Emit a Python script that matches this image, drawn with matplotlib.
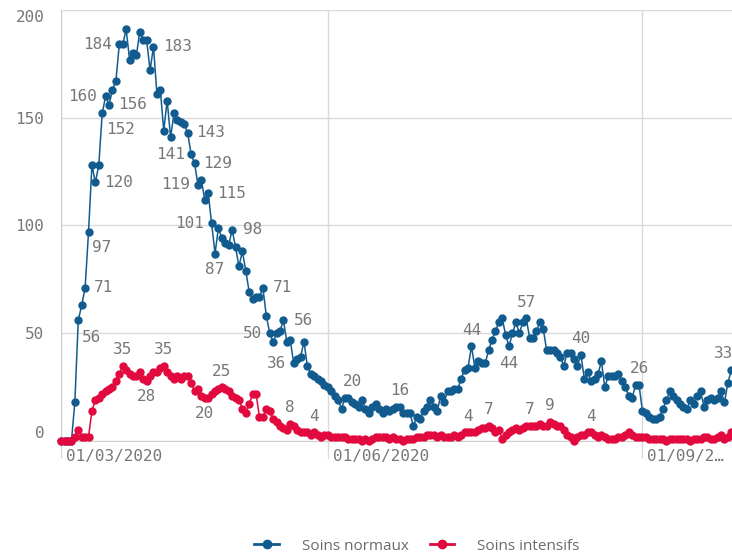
import numpy as np
import pandas as pd
import matplotlib
matplotlib.use("Agg")
import matplotlib.pyplot as plt
import matplotlib.dates as mdates
import matplotlib.transforms as mtransforms
from matplotlib.lines import Line2D

# daily values, 15/03/2020 -> 27/09/2020
dates = pd.date_range("2020-03-15", periods=197)

soins_normaux = [
    0, 0, 0, 0, 18, 56, 63, 71, 97, 128,
    120, 128, 152, 160, 156, 163, 167, 184, 184, 191,
    177, 180, 179, 190, 186, 186, 172, 183, 161, 163,
    144, 158, 141, 152, 149, 148, 147, 143, 133, 129,
    119, 121, 112, 115, 101, 87, 99, 94, 92, 91,
    98, 90, 81, 88, 79, 69, 66, 67, 67, 71,
    58, 50, 46, 50, 51, 56, 46, 47, 36, 38,
    39, 46, 35, 31, 30, 29, 28, 26, 25, 23,
    21, 19, 15, 20, 20, 18, 17, 16, 19, 15,
    13, 16, 17, 15, 13, 15, 14, 15, 16, 16,
    13, 13, 13, 7, 11, 10, 14, 16, 19, 16,
    14, 21, 18, 23, 23, 24, 24, 29, 33, 34,
    44, 34, 37, 36, 36, 42, 47, 51, 55, 57,
    49, 44, 50, 55, 50, 55, 57, 48, 48, 51,
    55, 52, 42, 42, 42, 41, 39, 35, 41, 41,
    38, 35, 40, 29, 32, 28, 29, 31, 37, 25,
    30, 30, 30, 31, 28, 25, 21, 20, 26, 26,
    14, 13, 11, 10, 10, 11, 15, 19, 23, 21,
    19, 17, 16, 15, 19, 17, 21, 23, 16, 19,
    20, 19, 20, 23, 18, 27, 33,
]

soins_intensifs = [
    0, 0, 0, 0, 2, 5, 2, 2, 2, 14,
    19, 20, 22, 23, 24, 25, 28, 31, 35, 33,
    31, 30, 30, 32, 29, 28, 30, 32, 32, 34,
    35, 32, 30, 29, 30, 29, 30, 30, 27, 23,
    24, 21, 20, 20, 22, 23, 24, 25, 24, 23,
    21, 20, 19, 15, 13, 17, 22, 22, 11, 11,
    15, 14, 10, 9, 7, 6, 5, 8, 7, 5,
    4, 4, 4, 3, 4, 3, 2, 3, 3, 2,
    2, 2, 2, 2, 1, 1, 1, 1, 0, 1,
    0, 1, 2, 2, 2, 2, 1, 2, 1, 1,
    0, 1, 1, 1, 2, 2, 2, 3, 3, 3,
    2, 3, 2, 2, 2, 3, 2, 3, 4, 4,
    4, 4, 5, 6, 6, 7, 6, 4, 5, 1,
    3, 4, 5, 6, 5, 6, 7, 7, 7, 7,
    8, 7, 7, 9, 8, 7, 7, 5, 3, 2,
    0, 2, 3, 3, 4, 4, 3, 2, 3, 2,
    1, 1, 1, 2, 2, 3, 4, 3, 2, 2,
    2, 2, 1, 1, 1, 1, 1, 0, 1, 1,
    1, 1, 1, 1, 0, 1, 1, 1, 2, 2,
    1, 1, 2, 3, 1, 2, 4,
]

# which points carry a value label
labels_normaux = [5, 7, 8, 10, 12, 13, 14, 17, 27, 32, 37, 39, 40, 43, 44, 45,
                  50, 59, 61, 65, 68, 84, 99, 120, 131, 136, 152, 169, 196]
labels_intensifs = [18, 25, 30, 42, 47, 67, 74, 119, 125, 137, 143, 155]

# label offsets in pixels (dx, dy up)
offs_normaux = [(13, -17), (18, 0), (13, -16), (23, 0), (18, -16), (-23, 0), (23, 0),
                (-22, 0), (24, 0), (0, -17), (23, 0), (23, 0), (-22, 0), (23, 0),
                (-22, 0), (0, -16), (20, 0), (20, 0), (-17, 0), (20, 0), (-17, 0),
                (4, 16), (0, 16), (0, 16), (0, -17), (0, 16), (0, 16), (0, 16), (-8, 16)]
offs_intensifs = [(0, 16), (0, -16), (0, 16), (0, -16), (0, 16), (0, 16), (0, 16),
                  (0, 16), (0, 16), (0, 16), (0, 16), (0, 16)]

tick_dates = ["2020-03-15", "2020-06-01", "2020-09-01"]
tick_labels = ["01/03/2020", "01/06/2020", "01/09/2\u2026"]
y_ticks = [0, 50, 100, 150, 200]

blue = "#115b8f"
red = "#e2093e"
grey_txt = "#777777"
grid_col = "#dadada"
mono = "DejaVu Sans Mono"

fig = plt.figure(figsize=(7.32, 5.59), dpi=100)
ax = fig.add_axes([61 / 732, 1 - 441 / 559, 1 - 61 / 732, (441 - 10) / 559])

x = mdates.date2num(dates)
ax.plot(x, soins_normaux, color=blue, lw=1.1, marker="o", ms=5, clip_on=False, zorder=3)
ax.plot(x, soins_intensifs, color=red, lw=1.1, marker="o", ms=5, clip_on=False, zorder=3)

for idx, (dx, dy) in zip(labels_normaux, offs_normaux):
    ax.annotate(str(soins_normaux[idx]), (x[idx], soins_normaux[idx]), xytext=(dx, dy),
                textcoords="offset pixels", ha="center", va="center",
                fontsize=11.5, family=mono, color=grey_txt, zorder=4)
for idx, (dx, dy) in zip(labels_intensifs, offs_intensifs):
    ax.annotate(str(soins_intensifs[idx]), (x[idx], soins_intensifs[idx]), xytext=(dx, dy),
                textcoords="offset pixels", ha="center", va="center",
                fontsize=11.5, family=mono, color=grey_txt, zorder=4)

ax.set_xlim(x[0] - 0.05, x[0] + 196.2)
ax.set_ylim(0, 200)

ax.set_yticks(y_ticks)
ax.set_yticklabels([str(v) for v in y_ticks], family=mono, fontsize=11.5, color=grey_txt)
ax.tick_params(axis="y", length=0, pad=12)
ylabs = ax.get_yticklabels()
ylabs[0].set_va("bottom")
ylabs[-1].set_va("top")

xt = mdates.date2num(pd.to_datetime(tick_dates))
ax.set_xticks(xt)
ax.set_xticklabels(tick_labels, family=mono, fontsize=11.5, color=grey_txt, ha="left")
ax.tick_params(axis="x", length=12, width=1, color=grid_col, pad=-6)
shift = mtransforms.ScaledTranslation(5 / 100, 0, fig.dpi_scale_trans)
for lab in ax.get_xticklabels():
    lab.set_transform(lab.get_transform() + shift)

ax.grid(True, color=grid_col, lw=1)
ax.set_axisbelow(True)
for s in ["top", "right"]:
    ax.spines[s].set_visible(False)
ax.spines["left"].set_color("#cfcfcf")
ax.spines["bottom"].set_color("#cfcfcf")

handles = [Line2D([], [], color=blue, lw=2, marker="o", ms=6),
           Line2D([], [], color=red, lw=2, marker="o", ms=6)]
leg = fig.legend(handles, ["Soins normaux", "Soins intensifs"], loc="center",
                 bbox_to_anchor=(417 / 732, 1 - 546 / 559), ncol=2, frameon=False,
                 handlelength=1.6, columnspacing=1.4, handletextpad=1.5,
                 prop={"family": "Open Sans", "size": 11})
for t in leg.get_texts():
    t.set_color("#6a6a6a")

fig.savefig("out.png", dpi=100)
